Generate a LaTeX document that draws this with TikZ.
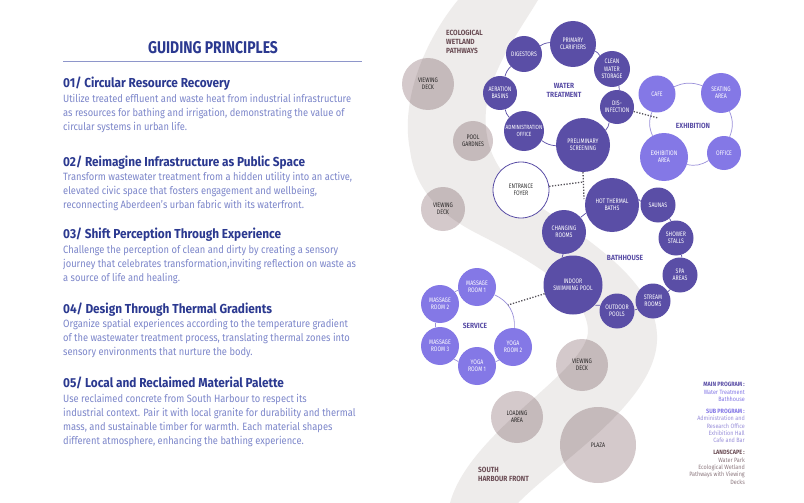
\documentclass[tikz,border=0pt]{standalone}
\usepackage{fontspec}
\setmainfont{Fira Sans}[FakeStretch=0.88]
\newfontfamily\headfont{Fira Sans}[FakeStretch=0.91]
\newfontfamily\titlefont{Fira Sans}[FakeStretch=0.82]
\newfontfamily\bubfont{Fira Sans}[FakeStretch=0.8]
\usetikzlibrary{positioning,backgrounds}

\definecolor{navy}{HTML}{2B3990}
\definecolor{periwinkle}{HTML}{7C86CA}
\definecolor{rulecol}{HTML}{8E96CA}
\definecolor{wtpurple}{HTML}{5A4EA6}
\definecolor{lilac}{HTML}{8478E6}
\definecolor{lilacline}{HTML}{9A90DA}
\definecolor{mauve}{HTML}{D4C9CB}
\definecolor{mauvetext}{HTML}{6A4C54}
\definecolor{mauvelight}{HTML}{8E7A80}
\definecolor{bandgrey}{HTML}{EEECEB}
\definecolor{dotgrey}{HTML}{55525A}

\begin{document}
\begin{tikzpicture}[
    x=1pt, y=-1pt,
    title/.style={font=\titlefont\bfseries\fontsize{17}{20}\selectfont, text=navy, inner sep=0pt, anchor=base},
    head/.style={font=\headfont\bfseries\fontsize{13}{15}\selectfont, text=navy, inner sep=0pt, text depth=3pt, anchor=base west},
    body/.style={font=\fontsize{10.6}{14}\selectfont, text=periwinkle, inner sep=0pt, align=left},
    bub/.style={circle, inner sep=0pt, align=center, minimum size=#1, font=\bubfont\fontsize{6.5}{7.3}\selectfont},
    darkbub/.style={bub=#1, fill=wtpurple, text=white},
    lightbub/.style={bub=#1, fill=lilac, text=white},
    greybub/.style={bub=#1, fill=mauve, text=black!80},
    openbub/.style={bub=#1, fill=white, draw=wtpurple, line width=0.8pt, text=black!80},
    zone/.style={font=\bfseries\fontsize{7.5}{9}\selectfont, text=wtpurple, align=center},
    place/.style={font=\bfseries\fontsize{7.5}{9}\selectfont, text=mauvetext, align=left, inner sep=0pt, anchor=north west},
    legend/.style={font=\fontsize{6.2}{7.4}\selectfont, align=right, inner sep=0pt, anchor=north east},
    ring/.style={draw=wtpurple, line width=0.7pt},
    dotlink/.style={draw=dotgrey, line width=1.3pt, dash pattern=on 1.3pt off 1.6pt},
]
  \useasboundingbox (0,0) rectangle (804,503);

  % background band of the wetland pathways
  \begin{scope}[on background layer]
    \fill[white] (0,0) rectangle (804,503);
    \fill[bandgrey] (458,0) .. controls (425,40) and (400,100) .. (410,150)
      .. controls (415,190) and (440,215) .. (480,235)
      .. controls (525,258) and (586,290) .. (588,330)
      .. controls (590,370) and (470,430) .. (450,503)
      -- (518,503)
      .. controls (560,460) and (660,400) .. (657,335)
      .. controls (655,280) and (585,238) .. (545,210)
      .. controls (510,186) and (482,160) .. (486,110)
      .. controls (490,70) and (520,30) .. (538,0) -- cycle;
  \end{scope}

  % Principles
  \node[title] (title) at (213,54) {GUIDING PRINCIPLES};
  \draw[rulecol, line width=0.8pt] (63,61) -- (362,61);

  \node[head] (h1) at (63,87.5) {01/ Circular Resource Recovery};
  \node[body, below=3pt of h1.south west, anchor=north west] (b1) {Utilize treated effluent and waste heat from industrial infrastructure\\as resources for bathing and irrigation, demonstrating the value of\\circular systems in urban life.};

  \node[head] (h2) at (63,166) {02/ Reimagine Infrastructure as Public Space};
  \node[body, below=3pt of h2.south west, anchor=north west] (b2) {Transform wastewater treatment from a hidden utility into an active,\\elevated civic space that fosters engagement and wellbeing,\\reconnecting Aberdeen's urban fabric with its waterfront.};

  \node[head] (h3) at (63,238.5) {03/ Shift Perception Through Experience};
  \node[body, below=3pt of h3.south west, anchor=north west] (b3) {Challenge the perception of clean and dirty by creating a sensory\\journey that celebrates transformation,inviting reflection on waste as\\a source of life and healing.};

  \node[head] (h4) at (63,313) {04/ Design Through Thermal Gradients};
  \node[body, below=3pt of h4.south west, anchor=north west] (b4) {Organize spatial experiences according to the temperature gradient\\of the wastewater treatment process, translating thermal zones into\\sensory environments that nurture the body.};

  \node[head] (h5) at (63,387.5) {05/ Local and Reclaimed Material Palette};
  \node[body, below=3pt of h5.south west, anchor=north west] (b5) {Use reclaimed concrete from South Harbour to respect its\\industrial context. Pair it with local granite for durability and thermal\\mass, and sustainable timber for warmth. Each material shapes\\different atmosphere, enhancing the bathing experience.};

  % Landscape
  \begin{scope}[blend mode=multiply]
    \node[greybub=52pt] (deckA) at (428,84) {VIEWING\\DECK};
    \node[greybub=40pt] (gardens) at (473,141) {POOL\\GARDNES};
    \node[greybub=44pt] (deckB) at (443,209) {VIEWING\\DECK};
    \node[greybub=52pt] (deckC) at (582,365) {VIEWING\\DECK};
    \node[greybub=52pt] (loading) at (517,417) {LOADING\\AREA};
    \node[greybub=76pt] (plaza) at (598,445) {PLAZA};
  \end{scope}
  \node[place] (wetland) at (446,30) {ECOLOGICAL\\WETLAND\\PATHWAYS};
  \node[place] (harbour) at (478,467) {SOUTH\\HARBOUR FRONT};

  % Water treatment
  \node[darkbub=46pt] (clarifiers) at (573,44) {PRIMARY\\CLARIFIERS};
  \node[darkbub=36pt] (digestors) at (524,54) {DIGESTORS};
  \node[darkbub=36pt] (storage) at (612,69) {CLEAN\\WATER\\STORAGE};
  \node[darkbub=34pt] (aeration) at (500,93) {AERATION\\BASINS};
  \node[darkbub=34pt] (disinfect) at (617,107) {DIS-\\INFECTION};
  \node[darkbub=40pt, font=\bubfont\fontsize{6}{7.3}\selectfont] (admin) at (524,131) {ADMINISTRATION\\OFFICE};
  \node[darkbub=54pt] (screening) at (583,145) {PRELIMINARY\\SCREENING};
  \node[zone] (wtlabel) at (564,90) {WATER\\TREATMENT};

  % Exhibition
  \node[lightbub=37pt] (cafe) at (657,94) {CAFE};
  \node[lightbub=40pt] (seating) at (721,93) {SEATING\\AREA};
  \node[lightbub=48pt] (exharea) at (664,157) {EXHIBITION\\AREA};
  \node[lightbub=34pt] (office) at (724,153) {OFFICE};
  \node[zone] (exlabel) at (693,126) {EXHIBITION};

  % Bathhouse
  \node[openbub=56pt] (foyer) at (521,190) {ENTRANCE\\FOYER};
  \node[darkbub=54pt] (baths) at (612,205) {HOT THERMAL\\BATHS};
  \node[darkbub=35pt] (saunas) at (658,205) {SAUNAS};
  \node[darkbub=35pt] (showers) at (676,238) {SHOWER\\STALLS};
  \node[darkbub=35pt] (spa) at (680,275) {SPA\\AREAS};
  \node[darkbub=35pt] (stream) at (653,301) {STREAM\\ROOMS};
  \node[darkbub=35pt] (outdoor) at (617,311) {OUTDOOR\\POOLS};
  \node[darkbub=59pt] (indoor) at (573,285) {INDOOR\\SWIMMING POOL};
  \node[darkbub=44pt] (changing) at (564,232) {CHANGING\\ROOMS};
  \node[zone] (bhlabel) at (625,258) {BATHHOUSE};

  % Service
  \node[lightbub=38pt] (massage1) at (477,287) {MASSAGE\\ROOM 1};
  \node[lightbub=38pt] (massage2) at (440,304) {MASSAGE\\ROOM 2};
  \node[lightbub=38pt] (massage3) at (440,346) {MASSAGE\\ROOM 3};
  \node[lightbub=38pt] (yoga1) at (477,366) {YOGA\\ROOM 1};
  \node[lightbub=38pt] (yoga2) at (513,347) {YOGA\\ROOM 2};
  \node[zone] (svlabel) at (475,326) {SERVICE};

  % Rings
  \begin{scope}[on background layer]
    \draw[ring] (clarifiers) to[bend left=15] (storage);
    \draw[ring] (storage) to[bend left=15] (disinfect);
    \draw[ring] (disinfect) to[bend left=15] (screening);
    \draw[ring] (screening) to[bend left=15] (admin);
    \draw[ring] (admin) to[bend left=15] (aeration);
    \draw[ring] (aeration) to[bend left=15] (digestors);
    \draw[ring] (digestors) to[bend left=15] (clarifiers);

    \draw[ring, lilacline] (cafe) to[bend left=22] (seating);
    \draw[ring, lilacline] (seating) to[bend left=22] (office);
    \draw[ring, lilacline] (office) to[bend left=22] (exharea);
    \draw[ring, lilacline] (exharea) to[bend left=22] (cafe);

    \draw[ring] (baths) to[bend left=12] (saunas);
    \draw[ring] (saunas) to[bend left=12] (showers);
    \draw[ring] (showers) to[bend left=12] (spa);
    \draw[ring] (spa) to[bend left=12] (stream);
    \draw[ring] (stream) to[bend left=12] (outdoor);
    \draw[ring] (outdoor) to[bend left=12] (indoor);
    \draw[ring] (indoor) to[bend left=12] (changing);
    \draw[ring] (changing) to[bend left=12] (baths);

    \draw[ring, lilacline] (massage1) to[bend left=35] (yoga2);
    \draw[ring, lilacline] (yoga2) to[bend left=15] (yoga1);
    \draw[ring, lilacline] (yoga1) to[bend left=15] (massage3);
    \draw[ring, lilacline] (massage3) to[bend left=15] (massage2);
    \draw[ring, lilacline] (massage2) to[bend left=15] (massage1);
  \end{scope}

  % Dotted links
  \coordinate (exring) at (658,118);
  \coordinate (bathtop) at (584,199);
  \coordinate (junction) at (583,182);
  \coordinate (svring) at (508,305);
  \draw[dotlink] (disinfect) -- (exring);
  \draw[dotlink] (screening.south) -- (bathtop);
  \draw[dotlink] (foyer) -- (junction);
  \draw[dotlink] (indoor) -- (svring);

  % Legend
  \node[legend] (mainprog) at (745,382) {\textcolor{wtpurple}{\bfseries MAIN PROGRAM :}\\\textcolor{lilac}{Water Treatment}\\\textcolor{lilac}{Bathhouse}};
  \node[legend, below=7pt of mainprog.south east, anchor=north east] (subprog) {\textcolor{lilac}{\bfseries SUB PROGRAM :}\\\textcolor{lilacline}{Administration and}\\\textcolor{lilacline}{Research Office}\\\textcolor{lilacline}{Exhibition Hall}\\\textcolor{lilacline}{Cafe and Bar}};
  \node[legend, below=7pt of subprog.south east, anchor=north east] (landprog) {\textcolor{mauvetext}{\bfseries LANDSCAPE :}\\\textcolor{mauvelight}{Water Park}\\\textcolor{mauvelight}{Ecological Wetland}\\\textcolor{mauvelight}{Pathways with Viewing}\\\textcolor{mauvelight}{Decks}};
\end{tikzpicture}
\end{document}
